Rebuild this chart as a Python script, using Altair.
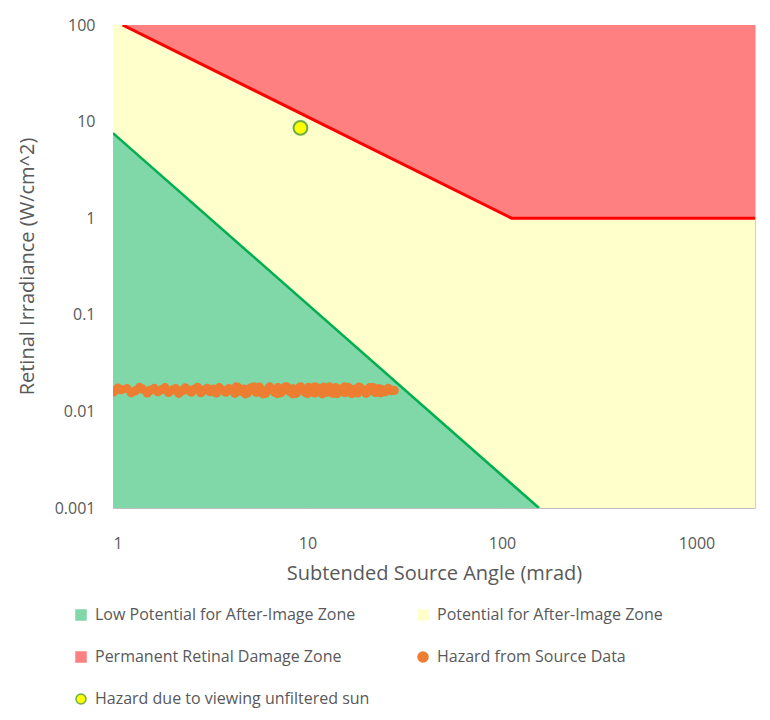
import altair as alt
import pandas as pd

# ---- data ----
green_x = [1.0, 155.0]
green_y = [7.6, 0.001]

red_x = [1.12, 112.0, 2000.0]
red_y = [100.0, 1.0, 1.0]

sun_x = [9.2]
sun_y = [8.6]

src_x = [1.00, 1.03, 1.06, 1.10, 1.18, 1.24, 1.30, 1.37, 1.42, 1.50, 1.55, 1.63, 1.70, 1.78, 1.85,
         1.93, 2.02, 2.10, 2.18, 2.27, 2.35, 2.44, 2.53, 2.62, 2.72, 2.83, 2.94, 3.05, 3.16, 3.28,
         3.40, 3.52, 3.66, 3.80, 3.94, 4.08, 4.23, 4.39, 4.55, 4.72, 4.90, 5.08, 5.27, 5.46, 5.66,
         5.87, 6.09, 6.31, 6.55, 6.79, 7.04, 7.30, 7.57, 7.85, 8.14, 8.44, 8.75, 9.08, 9.41, 9.76,
         10.1, 10.5, 10.9, 11.3, 11.7, 12.1, 12.6, 13.0, 13.5, 14.0, 14.5, 15.1, 15.6, 16.2, 16.8,
         17.4, 18.1, 18.7, 19.4, 20.1, 20.9, 21.6, 22.4, 23.3, 24.1, 25.0, 25.9, 26.9, 27.9]
src_y = [0.0158, 0.0166, 0.0174, 0.0168, 0.0172, 0.0156, 0.0163, 0.0177, 0.0170, 0.0155, 0.0165,
         0.0173, 0.0160, 0.0168, 0.0176, 0.0157, 0.0166, 0.0172, 0.0154, 0.0164, 0.0175, 0.0167,
         0.0158, 0.0169, 0.0177, 0.0156, 0.0166, 0.0173, 0.0160, 0.0170, 0.0155, 0.0176, 0.0165,
         0.0158, 0.0172, 0.0167, 0.0154, 0.0177, 0.0162, 0.0170, 0.0155, 0.0174, 0.0166, 0.0158,
         0.0178, 0.0163, 0.0154, 0.0173, 0.0169, 0.0158, 0.0176, 0.0156, 0.0166, 0.0178, 0.0160,
         0.0171, 0.0154, 0.0175, 0.0165, 0.0157, 0.0177, 0.0167, 0.0155, 0.0174, 0.0162, 0.0178,
         0.0158, 0.0169, 0.0154, 0.0176, 0.0164, 0.0172, 0.0156, 0.0177, 0.0162, 0.0169, 0.0155,
         0.0175, 0.0166, 0.0158, 0.0176, 0.0163, 0.0157, 0.0172, 0.0168, 0.0160, 0.0167, 0.0164,
         0.0165]
src2_x = [4.3, 4.8, 5.3, 5.9, 6.4, 7.0, 7.7, 8.4, 9.2, 10.0, 10.9, 11.9, 13.0, 14.2, 15.5,
          16.9, 18.4, 20.0, 21.8, 23.8, 26.0]
src2_y = [0.0179, 0.0152, 0.0180, 0.0152, 0.0179, 0.0153, 0.0180, 0.0152, 0.0180, 0.0153, 0.0180,
          0.0152, 0.0179, 0.0153, 0.0179, 0.0153, 0.0178, 0.0154, 0.0176, 0.0156, 0.0173]

series = ["Low Potential for After-Image Zone", "Permanent Retinal Damage Zone",
          "Hazard due to viewing unfiltered sun", "Potential for After-Image Zone",
          "Hazard from Source Data"]
fills = ["#80D7A8", "#FF8080", "#FFFF00", "#FFFFCC", "#ED7D31"]
strokes = ["#80D7A8", "#FF8080", "#70AD47", "#FFFFCC", "#ED7D31"]
shapes = ["square", "square", "circle", "square", "circle"]
sizes = [100, 100, 130, 100, 60]

x_ticks = [1, 10, 100, 1000]
y_ticks = [0.001, 0.01, 0.1, 1, 10, 100]
x_dom = [1, 2000]
y_dom = [0.001, 100]

# ---- tables ----
green_df = pd.DataFrame({"x": green_x, "y": green_y, "base": [y_dom[0]] * len(green_x)})
red_df = pd.DataFrame({"x": red_x, "y": red_y, "top": [y_dom[1]] * len(red_x)})
bg_df = pd.DataFrame({"x": [x_dom[0]], "x2": [x_dom[1]], "y": [y_dom[0]], "y2": [y_dom[1]]})
src_df = pd.DataFrame({"x": src_x + src2_x, "y": src_y[:len(src_x)] + src2_y})
sun_df = pd.DataFrame({"x": sun_x, "y": sun_y})
leg_df = pd.DataFrame({"series": series, "x": [0.5] * 5, "y": [0.0005] * 5})

xs = alt.Scale(type="log", domain=x_dom, nice=False)
ys = alt.Scale(type="log", domain=y_dom, nice=False)

X = alt.X("x:Q", scale=xs,
          axis=alt.Axis(values=x_ticks, format="~g", title="Subtended Source Angle (mrad)",
                        labelPadding=27, titlePadding=12))
Y = alt.Y("y:Q", scale=ys,
          axis=alt.Axis(values=y_ticks, format="~g", title="Retinal Irradiance (W/cm^2)",
                        labelPadding=18, titleX=-86, titleY=241, titleAngle=-90,
                        titleAlign="center", titleBaseline="middle"))

bg = alt.Chart(bg_df).mark_rect(color="#FFFFCC").encode(x=X, x2="x2:Q", y=Y, y2="y2:Q")

green_area = alt.Chart(green_df).mark_area(color="#80D7A8", orient="vertical", clip=True).encode(
    x=X, y=Y, y2="base:Q")
red_area = alt.Chart(red_df).mark_area(color="#FF8080", orient="vertical", clip=True).encode(
    x=X, y=Y, y2="top:Q")
green_line = alt.Chart(green_df).mark_line(color="#00B050", strokeWidth=2.5, clip=True).encode(x=X, y=Y)
red_line = alt.Chart(red_df).mark_line(color="#FF0000", strokeWidth=3, clip=True).encode(x=X, y=Y)

src = alt.Chart(src_df).mark_circle(color="#ED7D31", size=85, opacity=1, clip=True).encode(x=X, y=Y)
sun = alt.Chart(sun_df).mark_point(filled=True, fill="#FFFF00", stroke="#70AD47", strokeWidth=2,
                                   size=190, opacity=1, shape="circle", clip=True).encode(x=X, y=Y)

leg_field = alt.Color("series:N", scale=alt.Scale(domain=series, range=fills), sort=series,
                      legend=alt.Legend(title=None, orient="none", legendX=-40, legendY=582,
                                        columns=2, columnPadding=45, rowPadding=26,
                                        labelFontSize=16, labelColor="#595959",
                                        labelFont="Open Sans", labelLimit=400,
                                        symbolStrokeWidth=1.5, symbolOpacity=1,
                                        labelOffset=6))
legend_layer = alt.Chart(leg_df).mark_point(filled=True, clip=True, opacity=1).encode(
    x=X, y=Y, color=leg_field,
    stroke=alt.Stroke("series:N", scale=alt.Scale(domain=series, range=strokes), sort=series),
    shape=alt.Shape("series:N", scale=alt.Scale(domain=series, range=shapes), sort=series),
    size=alt.Size("series:N", scale=alt.Scale(domain=series, range=sizes), sort=series))

chart = alt.layer(bg, green_area, red_area, green_line, red_line, src, sun, legend_layer).properties(
    width=642, height=483,
    background="white",
    autosize=alt.AutoSizeParams(type="none"),
    padding={"left": 105, "top": 17, "right": 5, "bottom": 204},
).configure_axis(
    grid=True, gridColor="#000000", gridOpacity=0.08, gridWidth=1,
    domain=False, ticks=False, zindex=1,
    labelFont="Open Sans", labelFontSize=16, labelColor="#595959",
    titleFont="Open Sans", titleFontSize=20, titleColor="#595959", titleFontWeight="normal",
).configure_view(stroke="#D0D0D0", strokeWidth=1)

chart.save("out.html", embed_options={"renderer": "svg", "actions": False})
